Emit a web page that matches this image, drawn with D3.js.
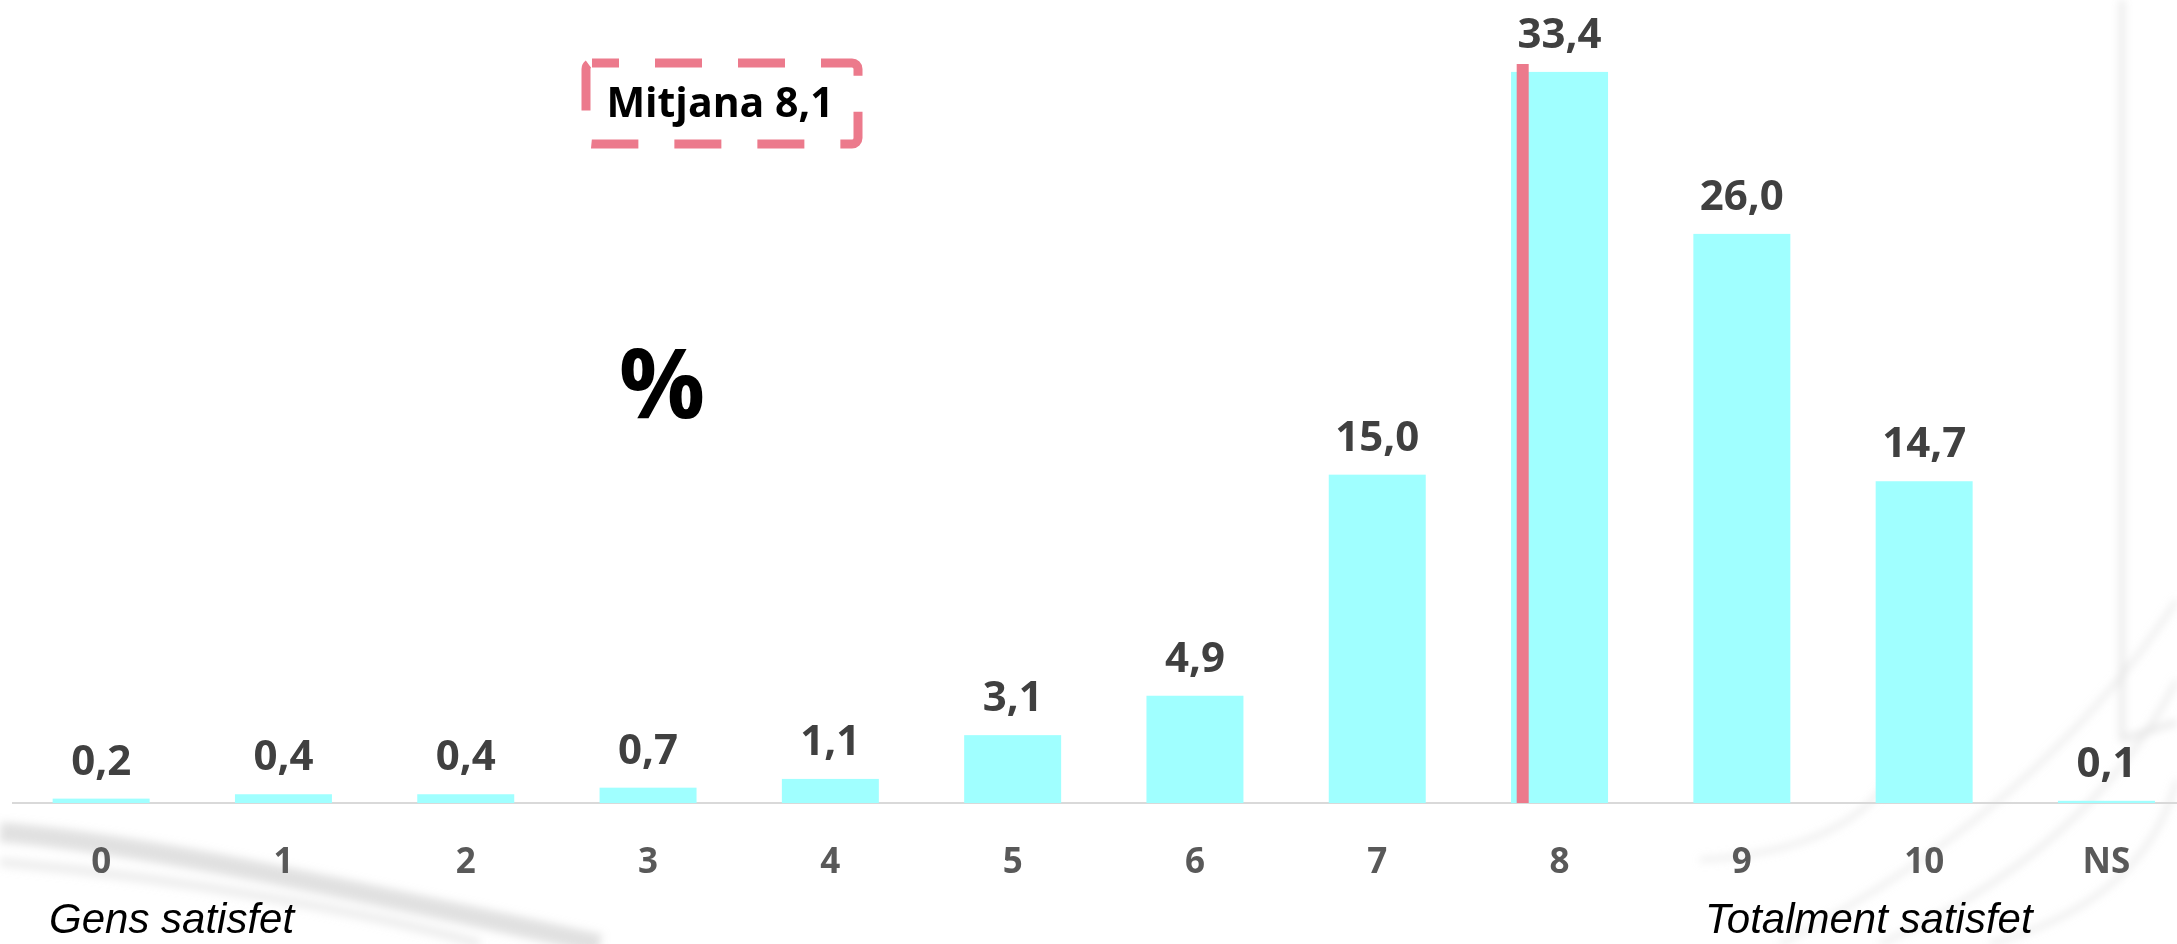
<!DOCTYPE html>
<html>
<head>
<meta charset="utf-8">
<script src="https://cdn.jsdelivr.net/npm/d3@7"></script>
<style>
  body { margin: 0; background: #fff; }
  svg { display: block; }
</style>
</head>
<body>
<div id="main"></div>
<script>
const categories = ["0", "1", "2", "3", "4", "5", "6", "7", "8", "9", "10", "NS"]
const values = [0.2, 0.4, 0.4, 0.7, 1.1, 3.1, 4.9, 15.0, 33.4, 26.0, 14.7, 0.1]
const meanValue = 8.1
const meanLabel = "Mitjana 8,1"
const lowLabel = "Gens satisfet"
const highLabel = "Totalment satisfet"

const W = 2177, H = 944
const fmt = (v) => v.toFixed(1).replace(".", ",")

let svg = d3.select('div#main').append('svg')
  .attr('width', W)
  .attr('height', H)

// faint background texture
let defs = svg.append('defs')
defs.append('filter').attr('id', 'soft')
  .append('feGaussianBlur').attr('stdDeviation', 4)

let bg = svg.append('g').attr('fill', 'none').attr('filter', 'url(#soft)')
bg.append('path')
  .attr('d', 'M0,832 C150,845 330,885 600,944')
  .attr('stroke', '#bdbdbd').attr('stroke-width', 20).attr('opacity', 0.45)
bg.append('path')
  .attr('d', 'M0,862 C200,880 380,915 480,944')
  .attr('stroke', '#d4d4d4').attr('stroke-width', 10).attr('opacity', 0.4)
;[[1780, 944, 2177, 600], [1880, 944, 2177, 680], [1990, 944, 2177, 780], [1700, 860, 1900, 760]]
  .forEach((p) => {
    bg.append('path')
      .attr('d', `M${p[0]},${p[1]} Q${(p[0] + p[2]) / 2 + 60},${(p[1] + p[3]) / 2 + 40} ${p[2]},${p[3]}`)
      .attr('stroke', '#d6d6d6').attr('stroke-width', 4).attr('opacity', 0.6)
  })
bg.append('path')
  .attr('d', 'M2120,740 L2177,722 M2122,0 L2122,740')
  .attr('stroke', '#dcdcdc').attr('stroke-width', 5).attr('opacity', 0.7)

let x = d3.scaleBand()
  .domain(categories)
  .range([10, 10 + 12 * 182.3])
  .paddingInner(0.468)
  .paddingOuter(0.234)

let y = d3.scaleLinear()
  .domain([0, 36])
  .range([803, 15])

// baseline
svg.append('line')
  .attr('x1', 12).attr('x2', W)
  .attr('y1', y(0)).attr('y2', y(0))
  .attr('stroke', '#d9d9d9').attr('stroke-width', 2)

// bars
svg.selectAll('rect.bar')
  .data(values)
  .enter()
  .append('rect')
    .attr('class', 'bar')
    .attr('x', (d, i) => x(categories[i]))
    .attr('y', (d) => y(d))
    .attr('width', x.bandwidth())
    .attr('height', (d) => y(0) - y(d))
    .attr('fill', '#a0ffff')

// value labels
svg.selectAll('text.val')
  .data(values)
  .enter()
  .append('text')
    .attr('class', 'val')
    .attr('x', (d, i) => x(categories[i]) + x.bandwidth() / 2)
    .attr('y', (d) => y(d) - 24)
    .attr('text-anchor', 'middle')
    .attr('font-family', 'Open Sans')
    .attr('font-weight', 'bold')
    .attr('font-size', 42)
    .attr('fill', '#404040')
    .text((d) => fmt(d))

// category axis
let xAxis = d3.axisBottom(x).tickSize(0).tickPadding(0)
let ax = svg.append('g')
  .attr('transform', `translate(0,${y(0)})`)
  .call(xAxis)
ax.select('.domain').remove()
ax.selectAll('text')
  .attr('dy', null)
  .attr('y', 70)
  .attr('font-family', 'Open Sans')
  .attr('font-weight', 'bold')
  .attr('font-size', 35)
  .attr('fill', '#595959')

// mean marker
let meanCat = String(Math.floor(meanValue))
let mx = x(meanCat) + x.bandwidth() * 0.12
svg.append('line')
  .attr('x1', mx).attr('x2', mx)
  .attr('y1', y(0)).attr('y2', y(values[categories.indexOf(meanCat)]) - 8)
  .attr('stroke', '#ec7a8c').attr('stroke-width', 12)

// mean box
svg.append('rect')
  .attr('x', 586).attr('y', 63)
  .attr('width', 272).attr('height', 81)
  .attr('rx', 6)
  .attr('fill', '#fff')
  .attr('stroke', '#ec7a8c')
  .attr('stroke-width', 9)
  .attr('stroke-dasharray', '47 36')
  .attr('stroke-dashoffset', 20)
svg.append('text')
  .attr('x', 720).attr('y', 117)
  .attr('text-anchor', 'middle')
  .attr('font-family', 'Open Sans')
  .attr('font-weight', 'bold')
  .attr('font-size', 41)
  .attr('fill', '#000')
  .text(meanLabel)

// percent sign
svg.append('text')
  .attr('x', 662).attr('y', 418)
  .attr('text-anchor', 'middle')
  .attr('font-family', 'Open Sans')
  .attr('font-weight', 'bold')
  .attr('font-size', 96)
  .attr('fill', '#000')
  .text('%')

// scale end labels
svg.append('text')
  .attr('x', 49).attr('y', 933)
  .attr('font-family', 'Liberation Sans')
  .attr('font-style', 'italic')
  .attr('font-size', 42)
  .attr('fill', '#000')
  .text(lowLabel)
svg.append('text')
  .attr('x', 1705).attr('y', 933)
  .attr('font-family', 'Liberation Sans')
  .attr('font-style', 'italic')
  .attr('font-size', 42)
  .attr('fill', '#000')
  .text(highLabel)
</script>
</body>
</html>
